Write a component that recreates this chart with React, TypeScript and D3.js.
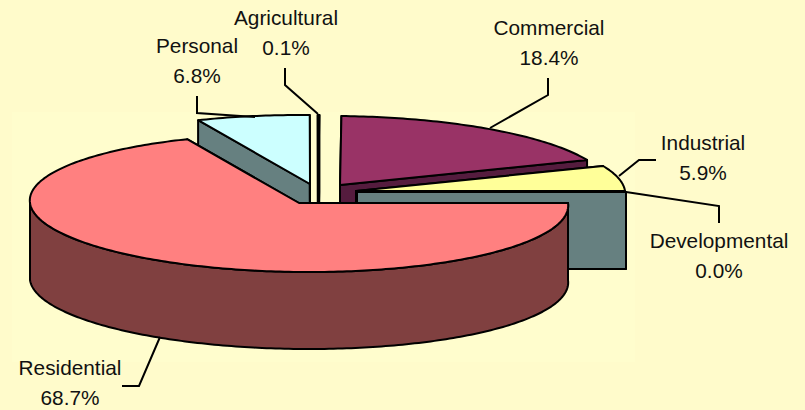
import React from "react";
import * as d3 from "d3";

const categories = ["Residential", "Personal", "Agricultural", "Commercial", "Industrial", "Developmental"];
const shares = [68.7, 6.8, 0.1, 18.4, 5.9, 0.0];
const shareLabels = ["68.7%", "6.8%", "0.1%", "18.4%", "5.9%", "0.0%"];

const topColors = ["#ff8080", "#ccffff", "#ffffcc", "#993366", "#ffff99", "#668080"];
const wallColors = ["#804040", "#668080", "#808066", "#551c3e", "#808050", "#668080"];

// pulled-out centre of each slice, in page pixels
const apexes: [number, number][] = [[299, 203], [310, 184], [318, 184], [340, 185], [356, 191], [357, 192]];

const labelAnchors: [number, number][] = [[70, 375], [197, 53], [286, 25], [549, 35], [703, 150], [719, 248]];

const leaders: [number, number][][] = [
  [[160, 337], [139, 386], [122, 386]],
  [[197, 96], [197, 113], [255, 117]],
  [[285, 68], [285, 85], [318, 114]],
  [[548, 78], [548, 95], [490, 128]],
  [[656, 160], [639, 160], [619, 176]],
  [[719, 223], [719, 206], [626, 192]],
];

const rx = 269;
const ry = 69;
const depth = 77;
const shear = 0.145;

const pie = d3.pie<number>().sort(null).value((d) => d).startAngle(0).endAngle(2 * Math.PI);
const arcs = pie(shares);

const App = () => {
  const line = d3.line();
  const point = (c: [number, number], a: number, dy = 0): [number, number] => [
    c[0] + rx * Math.cos(a) + shear * ry * Math.sin(a),
    c[1] + ry * Math.sin(a) + dy,
  ];
  const sample = (c: [number, number], a0: number, a1: number, dy = 0) => {
    const n = Math.max(2, Math.ceil((a1 - a0) * 60));
    return d3.range(n + 1).map((i) => point(c, a0 + ((a1 - a0) * i) / n, dy));
  };

  const slice = (i: number) => {
    const c = apexes[i];
    const { startAngle: a0, endAngle: a1 } = arcs[i];
    const top = line([c, ...sample(c, a0, a1)]) + "Z";
    const front = a0 < Math.PI
      ? line([...sample(c, a0, Math.min(a1, Math.PI)), ...sample(c, a0, Math.min(a1, Math.PI), depth).reverse()]) + "Z"
      : null;
    const cutStart = line([c, point(c, a0), point(c, a0, depth), [c[0], c[1] + depth]]) + "Z";
    const cutEnd = line([c, point(c, a1), point(c, a1, depth), [c[0], c[1] + depth]]) + "Z";
    return (
      <g key={categories[i]} stroke="#000" strokeWidth={2} strokeLinejoin="round">
        <path d={cutStart} fill={wallColors[i]} />
        <path d={cutEnd} fill={wallColors[i]} />
        {front && <path d={front} fill={wallColors[i]} />}
        <path d={top} fill={topColors[i]} />
      </g>
    );
  };

  return (
    <svg width={805} height={410} style={{ position: "absolute", left: 0, top: 0, display: "block" }}>
      <rect width={805} height={410} fill="#fffbcb" />
      <rect x={12} y={112} width={623} height={250} fill="#fffdcd" />
      {[1, 2, 3, 4, 5, 0].map(slice)}
      {leaders.map((pts, i) => (
        <path key={i} d={line(pts) ?? ""} fill="none" stroke="#000" strokeWidth={2} />
      ))}
      {categories.map((c, i) => (
        <text
          key={c}
          x={labelAnchors[i][0]}
          y={labelAnchors[i][1]}
          textAnchor="middle"
          fontFamily="Liberation Sans"
          fontSize={20.8}
          fill="#111"
        >
          <tspan x={labelAnchors[i][0]}>{c}</tspan>
          <tspan x={labelAnchors[i][0]} dy={30}>{shareLabels[i]}</tspan>
        </text>
      ))}
    </svg>
  );
};

export default App;
